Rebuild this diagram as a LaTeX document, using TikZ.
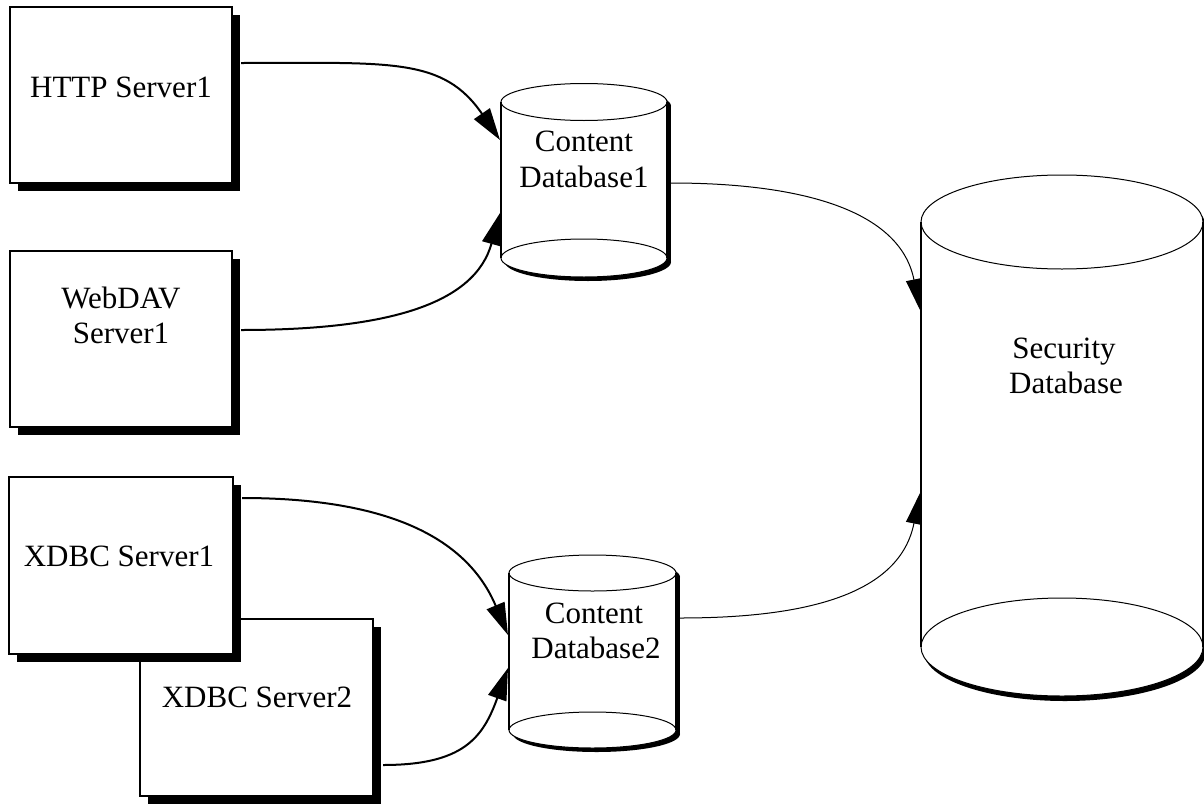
\documentclass[tikz,border=0pt]{standalone}
\usepackage{fontspec}
\setmainfont{Liberation Serif}
\usetikzlibrary{arrows.meta,calc,shadows}
% cylinder: cx, ytop, ybot, rx, ry top, ry bottom, shadow dx, shadow dy
\newcommand{\drawcyl}[8]{%
  \fill[black] ({#1-#4+#7},{#2+#8}) rectangle ({#1+#4+#7},{#3+#8});
  \fill[black] ({#1+#7},{#3+#8}) ellipse [x radius=#4pt, y radius=#6pt];
  \fill[black] ({#1+#7},{#2+#8}) ellipse [x radius=#4pt, y radius=#5pt];
  \fill[white] ({#1-#4},{#2}) rectangle ({#1+#4},{#3});
  \fill[white] ({#1},{#3}) ellipse [x radius=#4pt, y radius=#6pt];
  \fill[white] ({#1},{#2}) ellipse [x radius=#4pt, y radius=#5pt];
  \draw[line width=2pt] ({#1-#4},{#2}) -- ({#1-#4},{#3});
  \draw[line width=2pt] ({#1+#4},{#2}) -- ({#1+#4},{#3});
  \draw[line width=1pt] ({#1},{#2}) ellipse [x radius=#4pt, y radius=#5pt];
  \draw[line width=1pt] ({#1},{#3}) ellipse [x radius=#4pt, y radius=#6pt];
}
\begin{document}
\begin{tikzpicture}[x=1pt,y=-1pt,
  server/.style={draw=black, line width=2pt, fill=white, rectangle, inner sep=0pt,
    drop shadow={shadow xshift=8pt, shadow yshift=-8pt, fill=black, opacity=1}},
  dbanchor/.style={inner sep=0pt, outer sep=0pt, draw=none},
  lbl/.style={anchor=base, inner sep=0pt, font=\fontsize{31}{35}\selectfont},
  thickarrow/.style={line width=2pt, -{Triangle[length=32pt,width=19pt]}},
  thinarrow/.style={line width=1pt, -{Triangle[length=31pt,width=16pt]}},
]
\useasboundingbox (0,0) rectangle (1204,803);

% cylinders
\drawcyl{584}{102}{258}{83}{18.5}{19}{4}{4}
\drawcyl{592.5}{573}{730}{83.5}{18}{18}{4}{4}
\drawcyl{1062}{222}{647}{141}{47}{49}{3}{5}
\node[dbanchor, minimum width=166pt, minimum height=156pt] (cd1) at (584,180) {};
\node[dbanchor, minimum width=167pt, minimum height=157pt] (cd2) at (592.5,651.5) {};
\node[dbanchor, minimum width=282pt, minimum height=425pt] (sec) at (1062,434.5) {};

% server boxes
\node[server, minimum width=222pt, minimum height=176pt] (http) at (121,95) {};
\node[server, minimum width=222pt, minimum height=176pt] (webdav) at (121,339) {};
\node[server, minimum width=233pt, minimum height=177pt] (xdbc2) at (256.5,707.5) {};
\node[server, minimum width=224pt, minimum height=177pt] (xdbc1) at (121,565.5) {};

% labels
\node[lbl] (thttp) at (121,97) {HTTP Server1};
\node[lbl] (twd1) at (121,308) {WebDAV};
\node[lbl] (twd2) at (121,343) {Server1};
\node[lbl] (tx1) at (119,566) {XDBC Server1};
\node[lbl] (tx2) at (257,707) {XDBC Server2};
\node[lbl] (tc1a) at (584,151) {Content};
\node[lbl] (tc1b) at (584,187) {Database1};
\node[lbl] (tc2a) at (594,623) {Content};
\node[lbl] (tc2b) at (596,658) {Database2};
\node[lbl] (tsa) at (1064,358) {Security};
\node[lbl] (tsb) at (1066,393) {Database};

% connectors
\draw[thickarrow] ($(http.east)+(8,-32)$) .. controls +(150,0) and +(-57,-83) .. ($(cd1.west)+(-1,-40)$);
\draw[thickarrow] ($(webdav.east)+(8,-9)$) .. controls +(150,0) and +(-25,90) .. ($(cd1.west)+(-1,33)$);
\draw[thickarrow] ($(xdbc1.east)+(8,-67.5)$) .. controls +(150,0) and +(-40,-95) .. ($(cd2.west)+(-1,-16.5)$);
\draw[thickarrow] ($(xdbc2.east)+(9,57.5)$) .. controls +(80,0) and +(-25,70) .. ($(cd2.west)+(-1,16.5)$);
\draw[thinarrow] ($(cd1.east)+(4,3)$) .. controls +(130,0) and +(-20,-100) .. ($(sec.west)+(-1,-124.5)$);
\draw[thinarrow] ($(cd2.east)+(4,-33.5)$) .. controls +(130,0) and +(-20,100) .. ($(sec.west)+(-1,58.5)$);
\end{tikzpicture}
\end{document}
